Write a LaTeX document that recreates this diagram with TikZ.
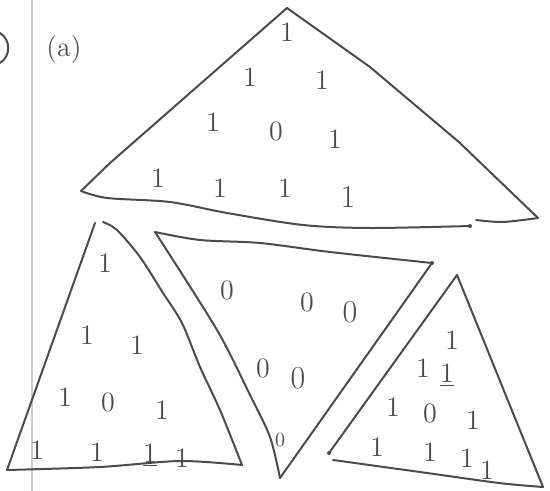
\documentclass[tikz,border=0pt]{standalone}
\usetikzlibrary{positioning,calc}
\definecolor{PencilGray}{RGB}{75,75,75}
\definecolor{MarginGray}{RGB}{205,205,205}
\tikzset{
	stroke/.style={draw=PencilGray,line width=1pt,line cap=round,line join=round},
	margin/.style={draw=MarginGray,line width=0.6pt},
	digit/.style={text=PencilGray,font=\fontsize{14}{16}\selectfont,inner sep=0pt},
	bigdigit/.style={digit,font=\fontsize{16}{18}\selectfont},
}
\begin{document}
\begin{tikzpicture}[x=0.5pt,y=-0.5pt]
	\useasboundingbox (0,0) rectangle (550,491);
	\draw[margin] (32,0) -- (32,491);
	\coordinate (pt) at (0,33);
	\coordinate (pb) at (0,63);
	\draw[stroke] (pt) .. controls (11,40) and (11,56) .. (pb);
	\node[digit] (lbl) at (64,50) {(a)};
	% top triangle
	\coordinate (ta) at (287,8);
	\coordinate (tl) at (81,191);
	\coordinate (tr) at (538,218);
	\coordinate (tb) at (470,226);
	\coordinate (tg) at (476,220);
	\draw[stroke] (tl) -- (110,163) -- (ta);
	\draw[stroke] (ta) -- (370,67) -- (460,143) -- (463,146) -- (tr);
	\draw[stroke] plot[smooth] coordinates {(tl) (107,198) (170,202) (227,213) (303,225) (370,228) (tb)};
	\draw[stroke] plot[smooth] coordinates {(tg) (503,222) (tr)};
	\fill[PencilGray] (tb) circle (2);
	\node[digit] (t1) at (287,32) {1};
	\node[digit] (t2) at (250,77) {1};
	\node[digit] (t3) at (322,80) {1};
	\node[digit] (t4) at (213,122) {1};
	\node[digit] (t5) at (276,131) {0};
	\node[digit] (t6) at (335,139) {1};
	\node[digit] (t7) at (158,178) {1};
	\node[digit] (t8) at (220,188) {1};
	\node[digit] (t9) at (285,188) {1};
	\node[bigdigit] (t10) at (348,197) {1};
	% bottom left triangle
	\coordinate (la) at (95,223);
	\coordinate (lb) at (103,222);
	\coordinate (ll) at (7,470);
	\coordinate (lr) at (242,465);
	\draw[stroke] (la) -- (ll);
	\draw[stroke] plot[smooth] coordinates {(lb) (117,230) (140,257) (163,293) (182,323) (200,367) (220,410) (lr)};
	\draw[stroke] plot[smooth] coordinates {(ll) (100,467) (180,461) (lr)};
	\node[digit] (l1) at (105,263) {1};
	\node[digit] (l2) at (87,335) {1};
	\node[digit] (l3) at (137,345) {1};
	\node[digit] (l4) at (65,397) {1};
	\node[digit] (l5) at (108,402) {0};
	\node[digit] (l6) at (162,410) {1};
	\node[digit] (l7) at (37,450) {1};
	\node[digit] (l8) at (97,452) {1};
	\node[digit] (l9) at (150,455) {\underline{1}};
	\node[digit] (l10) at (182,458) {1};
	% middle triangle
	\coordinate (ml) at (155,232);
	\coordinate (mr) at (432,263);
	\coordinate (mb) at (280,478);
	\draw[stroke] plot[smooth] coordinates {(ml) (200,240) (260,243) (330,252) (mr)};
	\draw[stroke] (mr) -- (mb);
	\draw[stroke] plot[smooth] coordinates {(ml) (217,330) (250,395) (270,437) (mb)};
	\fill[PencilGray] (mr) circle (2);
	\node[digit] (m1) at (227,290) {0};
	\node[digit] (m2) at (307,302) {0};
	\node[bigdigit] (m3) at (350,312) {0};
	\node[digit] (m4) at (263,368) {0};
	\node[bigdigit] (m5) at (298,378) {0};
	\node[digit,font=\fontsize{10}{12}\selectfont] (m6) at (280,440) {0};
	% bottom right triangle
	\coordinate (ra) at (457,275);
	\coordinate (rl) at (329,453);
	\coordinate (rs) at (333,460);
	\coordinate (rd) at (499,483);
	\coordinate (rr) at (543,487);
	\draw[stroke] (ra) -- (rl);
	\draw[stroke] (ra) -- (rr);
	\draw[stroke] plot[smooth] coordinates {(rs) (420,472) (rd) (rr)};
	\fill[PencilGray] (rl) circle (2);
	\node[digit] (r1) at (452,340) {1};
	\node[digit] (r2) at (423,368) {1};
	\node[digit] (r3) at (447,375) {\underline{1}};
	\node[digit] (r4) at (393,407) {1};
	\node[digit] (r5) at (430,413) {0};
	\node[digit] (r6) at (473,420) {1};
	\node[digit] (r7) at (377,447) {1};
	\node[digit] (r8) at (430,452) {1};
	\node[digit] (r9) at (467,458) {1};
	\node[digit] (r10) at (487,470) {1};
\end{tikzpicture}
\end{document}
